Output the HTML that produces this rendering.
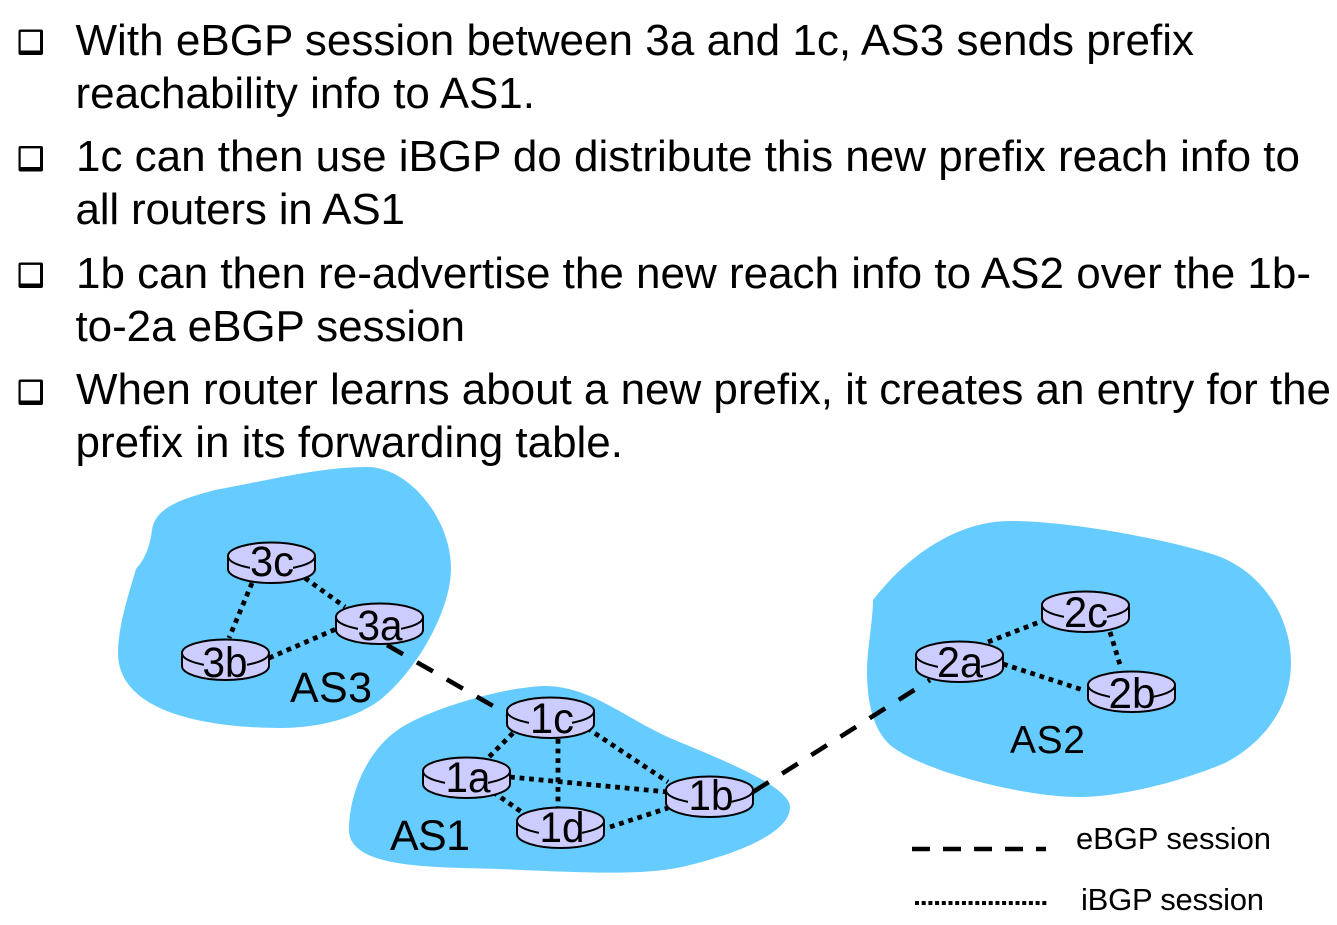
<!DOCTYPE html>
<html>
<head>
<meta charset="utf-8">
<style>
html,body{margin:0;padding:0;background:#fff;width:1337px;height:925px;overflow:hidden}
svg{display:block;font-family:"Liberation Sans",sans-serif}
.t{font-size:44px;fill:#000}
.l{font-size:43px;fill:#000;text-anchor:middle}
.d{stroke:#000;stroke-width:4.8;stroke-dasharray:4.8 4.8;fill:none}
.e{stroke:#000;stroke-width:4.6;stroke-dasharray:18.5 16;fill:none}
</style>
</head>
<body>
<svg width="1337" height="925" viewBox="0 0 1337 925" xmlns="http://www.w3.org/2000/svg">
<defs>
<g id="bul"><rect x="18.5" y="0" width="24.5" height="25.5" rx="2" fill="#000"/><rect x="20.7" y="2.4" width="19.3" height="18.6" fill="#fff"/></g>
<g id="rt">
<path d="M0 14 V27 A43.5 14 0 0 0 87 27 V14 Z" fill="#ccccff" stroke="#000" stroke-width="2"/>
<ellipse cx="43.5" cy="14" rx="43.5" ry="13.5" fill="#ccccff" stroke="#000" stroke-width="2"/>
<rect x="22" y="14" width="43" height="16" fill="#ccccff"/>
</g>
</defs>

<use href="#bul" y="29.5"/><use href="#bul" y="146"/><use href="#bul" y="262.5"/><use href="#bul" y="379.5"/>

<text class="t" x="75.5" y="55" textLength="1118.5">With eBGP session between 3a and 1c, AS3 sends prefix</text>
<text class="t" x="75.5" y="108" textLength="459.5">reachability info to AS1.</text>
<text class="t" x="76" y="171" textLength="1224">1c can then use iBGP do distribute this new prefix reach info to</text>
<text class="t" x="75.5" y="224" textLength="329.5">all routers in AS1</text>
<text class="t" x="76" y="288" textLength="1235">1b can then re-advertise the new reach info to AS2 over the 1b-</text>
<text class="t" x="75.5" y="341" textLength="389.5">to-2a eBGP session</text>
<text class="t" x="76" y="404" textLength="1255">When router learns about a new prefix, it creates an entry for the</text>
<text class="t" x="75.5" y="457" textLength="547.5">prefix in its forwarding table.</text>

<path fill="#66ccff" d="M136 569 C146 558 150 545 152 530 C155 505 190 497 215 490 C270 480 320 467 367 467 C410 467 451 520 451 568 C451 612 415 672 380 700 C350 722 310 728 280 728 C230 728 118 720 118 653 C118 625 130 590 136 569Z"/>
<path fill="#66ccff" d="M349 830 C349 790 370 750 395 732 C420 712 500 687 545 686 C590 686 625 718 670 738 C710 755 790 785 790 807 C790 835 730 855 690 865 C650 876 590 873 500 869 C440 867 349 870 349 830 Z"/>
<path fill="#66ccff" d="M873 600 C900 565 950 521 1010 521 C1070 521 1170 540 1215 555 C1260 570 1291 615 1291 663 C1291 710 1260 745 1225 763 C1180 782 1120 797 1080 797 C1020 797 920 770 890 745 C872 728 867 700 867 670 C867 650 873 620 873 600Z"/>

<line class="e" x1="387" y1="645" x2="507" y2="714"/>
<line class="e" x1="753" y1="792" x2="930" y2="680"/>

<line class="d" x1="252" y1="583" x2="229" y2="638"/>
<line class="d" x1="305" y1="578" x2="345" y2="607"/>
<line class="d" x1="269" y1="658" x2="336" y2="629"/>
<line class="d" x1="513" y1="733" x2="488" y2="758"/>
<line class="d" x1="558" y1="739" x2="558" y2="807"/>
<line class="d" x1="587" y1="728" x2="668" y2="782"/>
<line class="d" x1="510" y1="777" x2="668" y2="792"/>
<line class="d" x1="493" y1="792" x2="523" y2="813"/>
<line class="d" x1="610" y1="827" x2="668" y2="808"/>
<line class="d" x1="988" y1="642" x2="1042" y2="621"/>
<line class="d" x1="1003" y1="664" x2="1083" y2="690"/>
<line class="d" x1="1110" y1="632" x2="1121" y2="668"/>

<use href="#rt" x="228" y="542"/>
<use href="#rt" x="336" y="603"/>
<use href="#rt" x="182" y="639"/>
<use href="#rt" x="507" y="697"/>
<use href="#rt" x="423" y="757"/>
<use href="#rt" x="666" y="776"/>
<use href="#rt" x="517" y="807"/>
<use href="#rt" x="1042" y="591"/>
<use href="#rt" x="916" y="641"/>
<use href="#rt" x="1088" y="671"/>

<text class="l" x="272" y="576" textLength="44" lengthAdjust="spacingAndGlyphs">3c</text>
<text class="l" x="380" y="640" textLength="45" lengthAdjust="spacingAndGlyphs">3a</text>
<text class="l" x="225" y="677" textLength="45" lengthAdjust="spacingAndGlyphs">3b</text>
<text class="l" x="552" y="733" textLength="44" lengthAdjust="spacingAndGlyphs">1c</text>
<text class="l" x="468" y="792" textLength="45" lengthAdjust="spacingAndGlyphs">1a</text>
<text class="l" x="711" y="810" textLength="45" lengthAdjust="spacingAndGlyphs">1b</text>
<text class="l" x="562" y="842" textLength="45" lengthAdjust="spacingAndGlyphs">1d</text>
<text class="l" x="1086" y="627" textLength="44" lengthAdjust="spacingAndGlyphs">2c</text>
<text class="l" x="960" y="677" textLength="46" lengthAdjust="spacingAndGlyphs">2a</text>
<text class="l" x="1132" y="708" textLength="47" lengthAdjust="spacingAndGlyphs">2b</text>

<text x="290" y="702" font-size="43" textLength="82">AS3</text>
<text x="390" y="850" font-size="43" textLength="80">AS1</text>
<text x="1010" y="753" font-size="39" textLength="75">AS2</text>

<line x1="912" y1="849" x2="1046" y2="849" stroke="#000" stroke-width="4.5" stroke-dasharray="18 13"/>
<line x1="915" y1="903" x2="1049" y2="903" stroke="#000" stroke-width="4" stroke-dasharray="4 2.7"/>
<text x="1076" y="849" font-size="31" textLength="195">eBGP session</text>
<text x="1081" y="910" font-size="31" textLength="183">iBGP session</text>
</svg>
</body>
</html>
